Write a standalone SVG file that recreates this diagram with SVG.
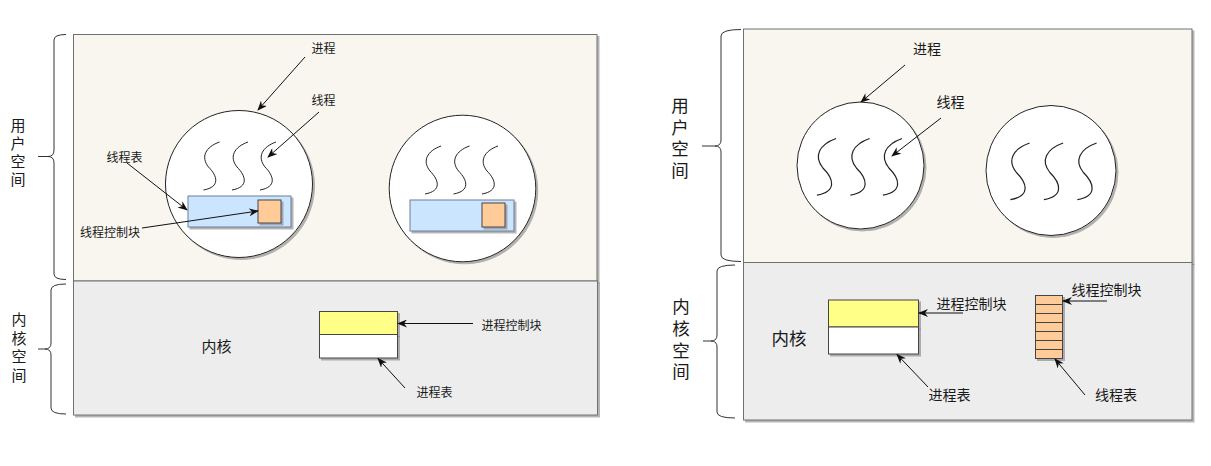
<svg xmlns="http://www.w3.org/2000/svg" width="1211" height="466" viewBox="0 0 1211 466">
<style>
text{font-family:"Noto Sans CJK SC","Noto Sans",sans-serif;fill:#1a1a1a;dominant-baseline:central}
.s{font-size:12px}.m{font-size:14px}
.v1{font-size:15px;writing-mode:vertical-rl;letter-spacing:3.2px}
.v2{font-size:17.5px;writing-mode:vertical-rl;letter-spacing:4.2px}
.h1{font-size:15px}.h2{font-size:17.5px}
.user{fill:#f8f6ef;stroke:#707070;stroke-width:1}
.kern{fill:#ededed;stroke:#707070;stroke-width:1}
.brace{fill:none;stroke:#333;stroke-width:1}
.circ{fill:#fff;stroke:#222;stroke-width:1}
.sq{fill:none;stroke:#222;stroke-width:1}
.conn{fill:none;stroke:#111;stroke-width:1;marker-end:url(#ah)}
.blue{fill:#cce5ff;stroke:#6c7f99;stroke-width:1}
.org{fill:#ffcc99;stroke:#444;stroke-width:1}
.yel{fill:#ffff88;stroke:#444;stroke-width:1}
.wht{fill:#fff;stroke:#444;stroke-width:1}
</style>
<defs>
<filter id="sh" x="-10%" y="-10%" width="130%" height="130%">
<feDropShadow dx="2" dy="2" stdDeviation="0.6" flood-color="#777" flood-opacity="0.55"/>
</filter>
<marker id="ah" markerUnits="userSpaceOnUse" markerWidth="10" markerHeight="8" refX="9" refY="4" orient="auto">
<path d="M0,0 L10,4 L0,8 L3,4 z" fill="#111"/>
</marker>
<path id="sq" d="M8,0 C-6,5 -11,15 -3,25 C6,34 9,45 -8,48"/>
</defs>

<g id="left-user-space">
<rect class="user" x="73.5" y="34.5" width="523.5" height="246.5" filter="url(#sh)"/>
<path class="brace" d="M66,34.5 Q54,34.5 54,40 L54,150 Q54,156.5 48,156.5 L38,156.5 M48,156.5 Q54,156.5 54,163 L54,274 Q54,279.5 66,279.5"/>
<text class="v1" x="18" y="117.5">用户空间</text>
</g>

<g id="left-kernel-space">
<rect class="kern" x="73.5" y="281" width="524" height="134" filter="url(#sh)"/>
<path class="brace" d="M66,284 Q51,284 51,290 L51,343 Q51,349 45,349 L38,349 M45,349 Q51,349 51,355 L51,408 Q51,414 66,414"/>
<text class="v1" x="19" y="312" style="letter-spacing:3.6px">内核空间</text>
<text class="h1" x="216.5" y="345" text-anchor="middle">内核</text>
</g>

<g id="left-process-1">
<circle class="circ" cx="239" cy="184" r="73.5" filter="url(#sh)"/>
<use href="#sq" class="sq" x="211.5" y="142"/>
<use href="#sq" class="sq" x="240" y="142"/>
<use href="#sq" class="sq" x="268" y="142"/>
<rect class="blue" x="188" y="196" width="103" height="31" filter="url(#sh)"/>
<rect class="org" x="258" y="200" width="23" height="23" filter="url(#sh)"/>
</g>

<g id="left-process-2">
<circle class="circ" cx="462.5" cy="188.5" r="73.3" filter="url(#sh)"/>
<use href="#sq" class="sq" x="433" y="146"/>
<use href="#sq" class="sq" x="461.5" y="146"/>
<use href="#sq" class="sq" x="490" y="146"/>
<rect class="blue" x="410" y="200" width="104" height="31" filter="url(#sh)"/>
<rect class="org" x="482" y="203" width="23" height="24" filter="url(#sh)"/>
</g>

<g id="left-process-table">
<rect class="yel" x="319.5" y="311.5" width="78" height="23" filter="url(#sh)"/>
<rect class="wht" x="319.5" y="334.5" width="78" height="23.5" filter="url(#sh)"/>
</g>

<g id="left-labels">
<text class="s" x="311.5" y="47.5">进程</text>
<text class="s" x="311.5" y="99">线程</text>
<text class="s" x="106.5" y="156">线程表</text>
<text class="s" x="80" y="231">线程控制块</text>
<text class="s" x="481.5" y="324">进程控制块</text>
<text class="s" x="416.5" y="391">进程表</text>
</g>

<g id="right-user-space">
<rect class="user" x="743.5" y="29" width="448.5" height="233.5" filter="url(#sh)"/>
<path class="brace" d="M741,29.5 Q721,29.5 721,36 L721,140 Q721,146 715,146 L702,146 M715,146 Q721,146 721,152 L721,255 Q721,261.5 741,261.5"/>
<text class="v2" x="680" y="96.5">用户空间</text>
</g>

<g id="right-kernel-space">
<rect class="kern" x="743.5" y="262.5" width="448.5" height="157.5" filter="url(#sh)"/>
<path class="brace" d="M735,265 Q717,265 717,271 L717,335 Q717,341 711,341 L703,341 M711,341 Q717,341 717,347 L717,412 Q717,418 735,418"/>
<text class="v2" x="681" y="298">内核空间</text>
<text class="h2" x="789" y="337.5" text-anchor="middle">内核</text>
</g>

<g id="right-process-1">
<circle class="circ" cx="860.5" cy="165.5" r="63.5" filter="url(#sh)"/>
<use href="#sq" class="sq" transform="translate(826.5,138.5) scale(1.2,1.18)"/>
<use href="#sq" class="sq" transform="translate(860,138.5) scale(1.2,1.18)"/>
<use href="#sq" class="sq" transform="translate(892.5,138.5) scale(1.2,1.18)"/>
</g>

<g id="right-process-2">
<circle class="circ" cx="1051" cy="170.5" r="65" filter="url(#sh)"/>
<use href="#sq" class="sq" transform="translate(1020,143) scale(1.2,1.18)"/>
<use href="#sq" class="sq" transform="translate(1053.5,143) scale(1.2,1.18)"/>
<use href="#sq" class="sq" transform="translate(1087,143) scale(1.2,1.18)"/>
</g>

<g id="right-process-table">
<rect class="yel" x="828.5" y="300" width="90" height="27" filter="url(#sh)"/>
<rect class="wht" x="828.5" y="327" width="90" height="27" filter="url(#sh)"/>
</g>

<g id="right-thread-table">
<rect class="org" x="1035.5" y="295.5" width="27" height="63" filter="url(#sh)"/>
<path d="M1035.5,304.5 h27 M1035.5,313.5 h27 M1035.5,322.5 h27 M1035.5,331.5 h27 M1035.5,340.5 h27 M1035.5,349.5 h27" stroke="#444" stroke-width="1"/>
</g>

<g id="right-labels">
<text class="m" x="913" y="48">进程</text>
<text class="m" x="936.5" y="101">线程</text>
<text class="m" x="936.5" y="302.5">进程控制块</text>
<text class="m" x="928.5" y="394">进程表</text>
<text class="m" x="1071.5" y="288.5">线程控制块</text>
<text class="m" x="1095" y="394">线程表</text>
</g>

<g id="connectors">
<path class="conn" d="M305,57 L258,110"/>
<path class="conn" d="M319,112 L268,157"/>
<path class="conn" d="M127,163 L187,210"/>
<path class="conn" d="M142,228 L258,211"/>
<path class="conn" d="M473,323.5 L398,323.5"/>
<path class="conn" d="M405,388 L378,358.5"/>
<path class="conn" d="M905,65 L861,102"/>
<path class="conn" d="M941,118 L892,156"/>
<path class="conn" d="M963,313 L919,313"/>
<path class="conn" d="M928,387 L897,354.5"/>
<path class="conn" d="M1107,301 L1063,301"/>
<path class="conn" d="M1085,395 L1055,359"/>
</g>
</svg>
